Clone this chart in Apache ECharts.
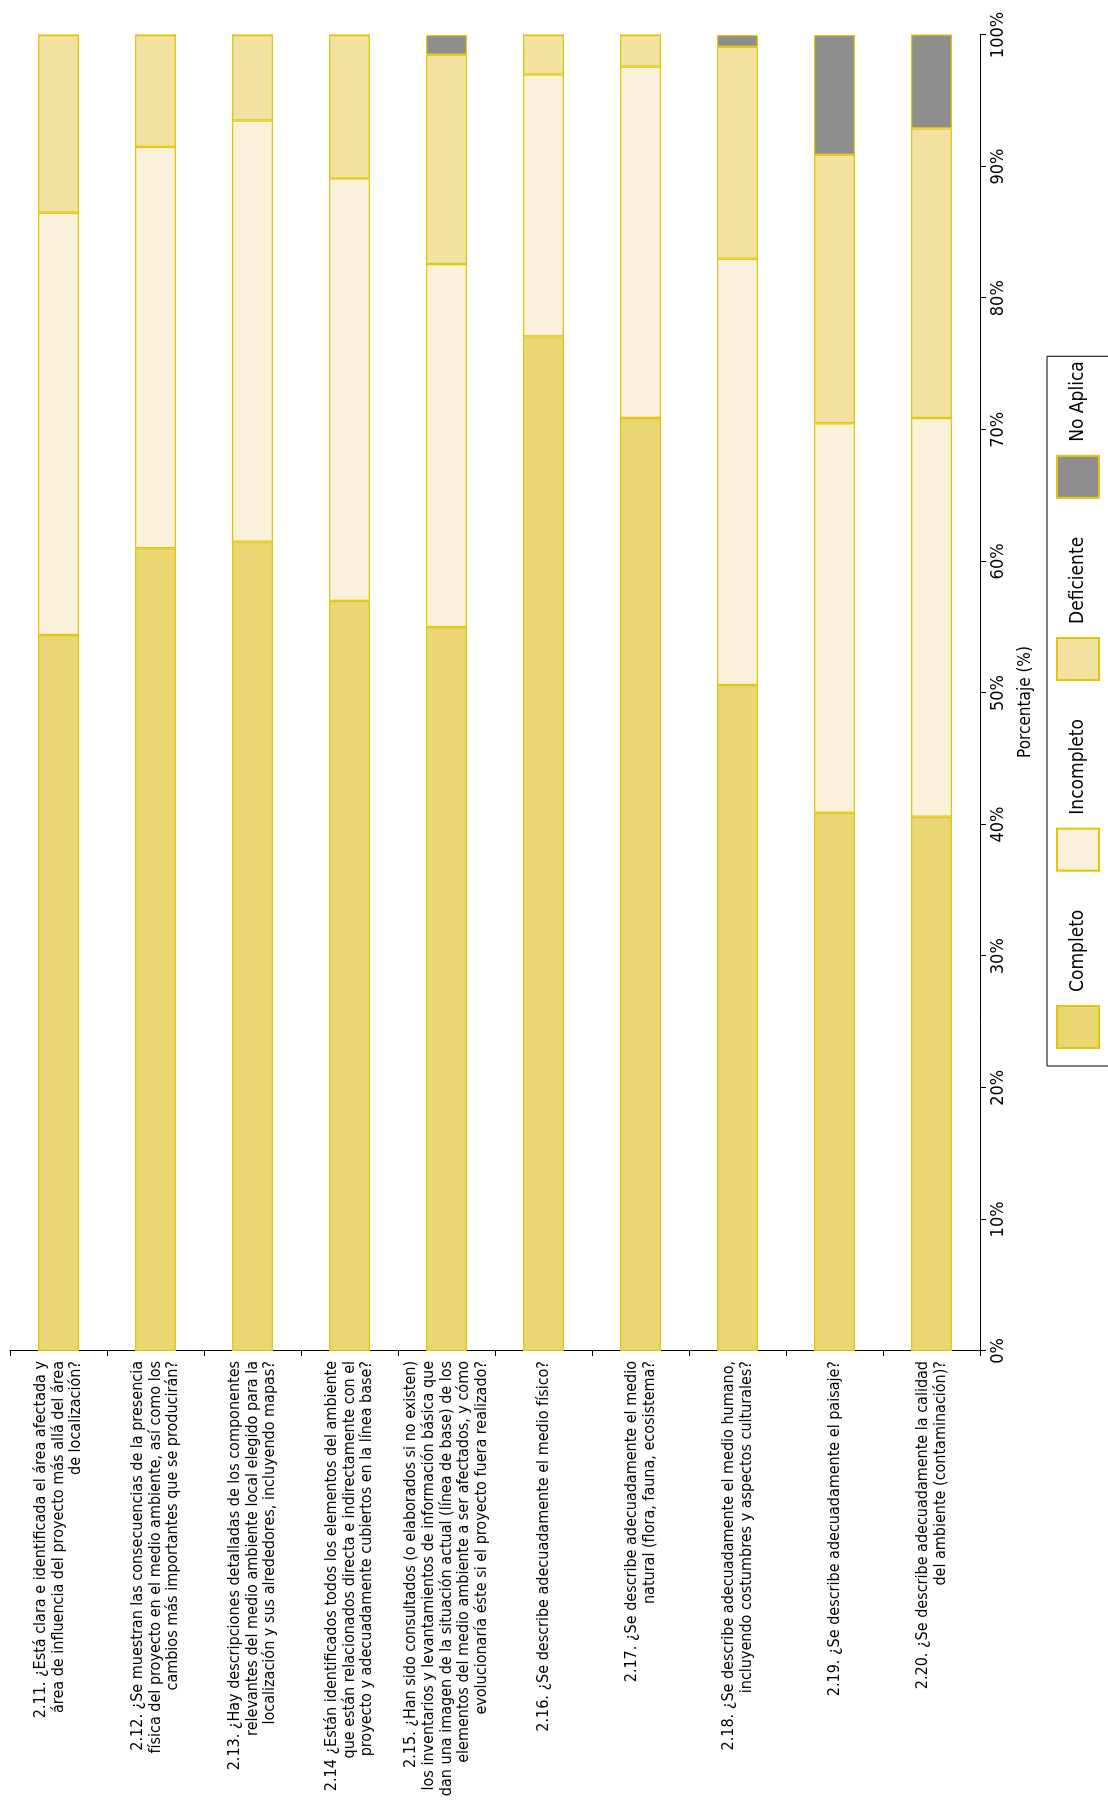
<!DOCTYPE html>
<html>
<head>
<meta charset="utf-8">
<script src="https://cdn.jsdelivr.net/npm/echarts@6/dist/echarts.min.js"></script>
<style>
  html, body { margin: 0; padding: 0; background: #ffffff; overflow: hidden; }
  body { width: 1108px; height: 1814px; position: relative; }
  /* The chart is laid out landscape and turned a quarter turn so it reads upward. */
  #chart {
    position: absolute; left: 0; top: 0;
    width: 1814px; height: 1108px;
    transform-origin: 0 0;
    transform: translateY(1814px) rotate(-90deg);
  }
</style>
</head>
<body>
<div id="chart"></div>
<script>
// Survey items (section 2 of the evaluation checklist)
const categories = [
  '2.11. ¿Está clara e identificada el área afectada y\nárea de influencia del proyecto más allá del área\nde localización?',
  '2.12. ¿Se muestran las consecuencias de la presencia\nfísica del proyecto en el medio ambiente, así como los\ncambios más importantes que se producirán?',
  '2.13. ¿Hay descripciones detalladas de los componentes\nrelevantes del medio ambiente local elegido para la\nlocalización y sus alrededores, incluyendo mapas?',
  '2.14 ¿Están identificados todos los elementos del ambiente\nque están relacionados directa e indirectamente con el\nproyecto y adecuadamente cubiertos en la línea base?',
  '2.15. ¿Han sido consultados (o elaborados si no existen)\nlos inventarios y levantamientos de información básica que\ndan una imagen de la situación actual (línea de base) de los\nelementos del medio ambiente a ser afectados, y cómo\nevolucionaría éste si el proyecto fuera realizado?',
  '2.16. ¿Se describe adecuadamente el medio físico?',
  '2.17. ¿Se describe adecuadamente el medio\nnatural (flora, fauna, ecosistema?',
  '2.18. ¿Se describe adecuadamente el medio humano,\nincluyendo costumbres y aspectos culturales?',
  '2.19. ¿Se describe adecuadamente el paisaje?',
  '2.20. ¿Se describe adecuadamente la calidad\ndel ambiente (contaminación)?'
];

// Share of answers per item, in percent
const completo   = [54.4, 61.0, 61.5, 57.0, 55.0, 77.1, 70.9, 50.6, 40.9, 40.6];
const incompleto = [32.1, 30.5, 32.0, 32.1, 27.6, 19.9, 26.7, 32.4, 29.6, 30.3];
const deficiente = [13.5,  8.5,  6.5, 10.9, 15.9,  3.0,  2.4, 16.1, 20.4, 22.0];
const noAplica   = [ 0.0,  0.0,  0.0,  0.0,  1.5,  0.0,  0.0,  0.9,  9.1,  7.4];

const seriesNames = ['Completo', 'Incompleto', 'Deficiente', 'No Aplica'];
const seriesData = [completo, incompleto, deficiente, noAplica];
const fills = ['#EAD673', '#F9F1DA', '#F2E1A0', '#8E8E8E'];
const edge = '#E3C60C';
const FONT = '"DejaVu Sans Condensed", "Liberation Sans Narrow", sans-serif';

const chart = echarts.init(document.getElementById('chart'), null, { renderer: 'canvas', width: 1814, height: 1108 });

chart.setOption({
  backgroundColor: '#ffffff',
  animation: false,
  textStyle: { fontFamily: FONT, color: '#000' },
  grid: { left: 463, right: 35, top: 10, bottom: 128, containLabel: false, outerBoundsMode: 'none' },
  legend: {
    data: seriesNames,
    left: 748,
    top: 1047,
    orient: 'horizontal',
    itemWidth: 42,
    itemHeight: 42,
    itemGap: 38,
    padding: [9, 5, 20, 17],
    borderColor: '#000',
    borderWidth: 1,
    icon: 'rect',
    textStyle: { fontFamily: FONT, fontSize: 19, color: '#000', padding: [0, 0, 0, 9] }
  },
  xAxis: {
    type: 'value',
    min: 0,
    max: 100,
    interval: 10,
    position: 'bottom',
    name: 'Porcentaje (%)',
    nameLocation: 'middle',
    nameGap: 37,
    nameTextStyle: { fontFamily: FONT, fontSize: 17, color: '#000', padding: [0, 18, 0, 0] },
    axisLine: { show: true, lineStyle: { color: '#000', width: 1 } },
    axisTick: { show: true, inside: false, length: 6, lineStyle: { color: '#000' } },
    axisLabel: { formatter: '{value}%', fontFamily: FONT, fontSize: 18, color: '#000', margin: 9 },
    splitLine: { show: false }
  },
  yAxis: {
    type: 'category',
    inverse: true,
    data: categories,
    axisLine: { show: true, lineStyle: { color: '#000', width: 1 } },
    axisTick: { show: true, inside: false, length: 5, alignWithLabel: false, lineStyle: { color: '#000' } },
    axisLabel: {
      interval: 0,
      fontFamily: FONT,
      fontSize: 16,
      lineHeight: 17.7,
      color: '#000',
      align: 'right',
      margin: 10
    },
    splitLine: { show: false }
  },
  series: seriesNames.map((name, i) => ({
    name: name,
    type: 'bar',
    stack: 'total',
    barWidth: 41,
    data: seriesData[i],
    itemStyle: { color: fills[i], borderColor: edge, borderWidth: 1.2 },
    emphasis: { disabled: true }
  }))
});
</script>
</body>
</html>
